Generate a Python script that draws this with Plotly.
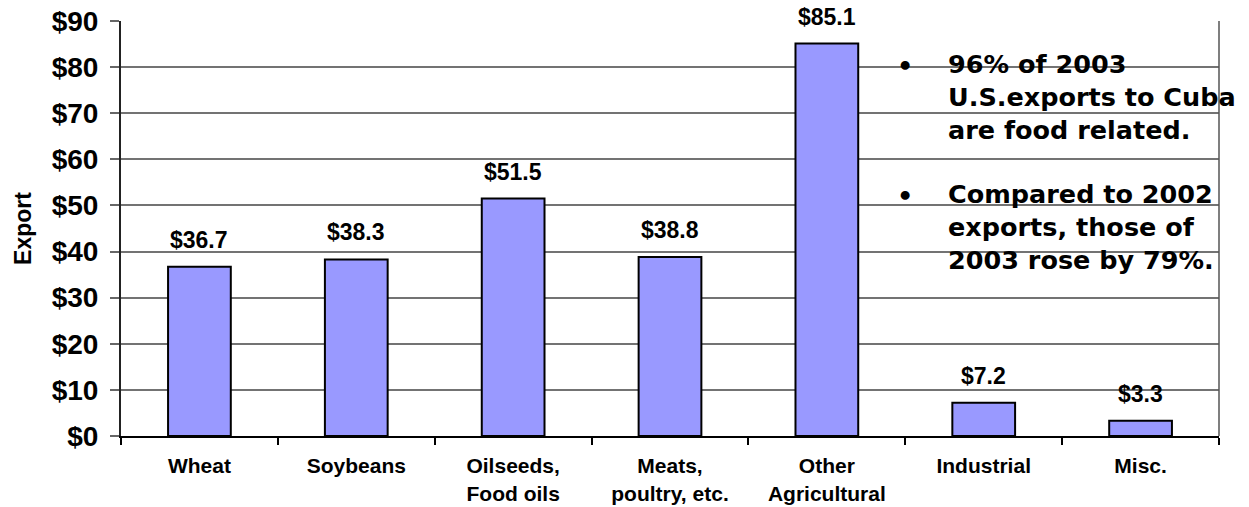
import plotly.graph_objects as go

categories = ["Wheat", "Soybeans", "Oilseeds,<br>Food oils", "Meats,<br>poultry, etc.",
              "Other<br>Agricultural", "Industrial", "Misc."]
values = [36.7, 38.3, 51.5, 38.8, 85.1, 7.2, 3.3]
value_labels = ["$36.7", "$38.3", "$51.5", "$38.8", "$85.1", "$7.2", "$3.3"]
y_ticks = [0, 10, 20, 30, 40, 50, 60, 70, 80, 90]
y_tick_labels = ["$" + str(v) for v in y_ticks]
notes = [
    "96% of 2003<br>U.S.exports to Cuba<br>are food related.",
    "Compared to 2002<br>exports, those of<br>2003 rose by 79%.",
]

W, H = 1249, 507
L, R, T, B = 120.5, 30, 20.7, 71
pw, ph = W - L - R, H - T - B

def px(x):
    return (x - L) / pw

def py(y):
    return (H - B - y) / ph

ARIAL = "Arial, Liberation Sans"

fig = go.Figure()
fig.add_trace(go.Bar(
    x=categories, y=values,
    marker=dict(color="#9999FF", line=dict(color="black", width=2)),
    hoverinfo="skip",
))

for c, v, t in zip(categories, values, value_labels):
    fig.add_annotation(x=c, y=v, text=t, showarrow=False, yanchor="bottom", yshift=12,
                       font=dict(family=ARIAL, size=23, color="black", weight="bold"))

note_font = dict(family="Verdana, DejaVu Sans", size=25.5, color="black", weight="bold")
for txt, cy, by in zip(notes, [97, 227], [66, 196]):
    fig.add_annotation(xref="paper", yref="paper", x=px(946), y=py(cy), text=txt,
                       showarrow=False, xanchor="left", yanchor="middle", align="left", font=note_font)
    fig.add_annotation(xref="paper", yref="paper", x=px(905), y=py(by), text="•",
                       showarrow=False, xanchor="center", yanchor="middle", font=note_font)

fig.update_layout(
    width=W, height=H,
    margin=dict(l=L, r=R, t=T, b=B, pad=0),
    paper_bgcolor="white", plot_bgcolor="white",
    bargap=0.6, showlegend=False,
    font=dict(family=ARIAL, color="black"),
)
fig.update_xaxes(
    automargin=False,
    showline=True, linecolor="black", linewidth=2, mirror=False,
    ticks="outside", ticklen=7, tickcolor="black", tickwidth=1.5, tickson="boundaries",
    tickfont=dict(family=ARIAL, size=21, color="black", weight="bold"),
    ticklabelstandoff=10,
    showgrid=False,
)
fig.update_yaxes(
    automargin=False,
    range=[0, 90], tickvals=y_ticks, ticktext=y_tick_labels,
    showline=True, linecolor="#222222", linewidth=2, mirror=False,
    ticks="outside", ticklen=9, tickcolor="#666666", tickwidth=1.5,
    tickfont=dict(family=ARIAL, size=28, color="black", weight="bold"),
    ticklabelstandoff=6,
    showgrid=True, gridcolor="#737373", gridwidth=1.5, zeroline=False,
    title=dict(text="Export", font=dict(family=ARIAL, size=23, color="black", weight="bold"),
               standoff=14),
)
# right frame line
fig.add_shape(type="line", xref="paper", yref="paper", x0=1, x1=1, y0=0, y1=1,
              line=dict(color="#555555", width=1.5))

fig.write_html("out.html", config={"displayModeBar": False},
               post_script="document.body.style.margin='0';")
